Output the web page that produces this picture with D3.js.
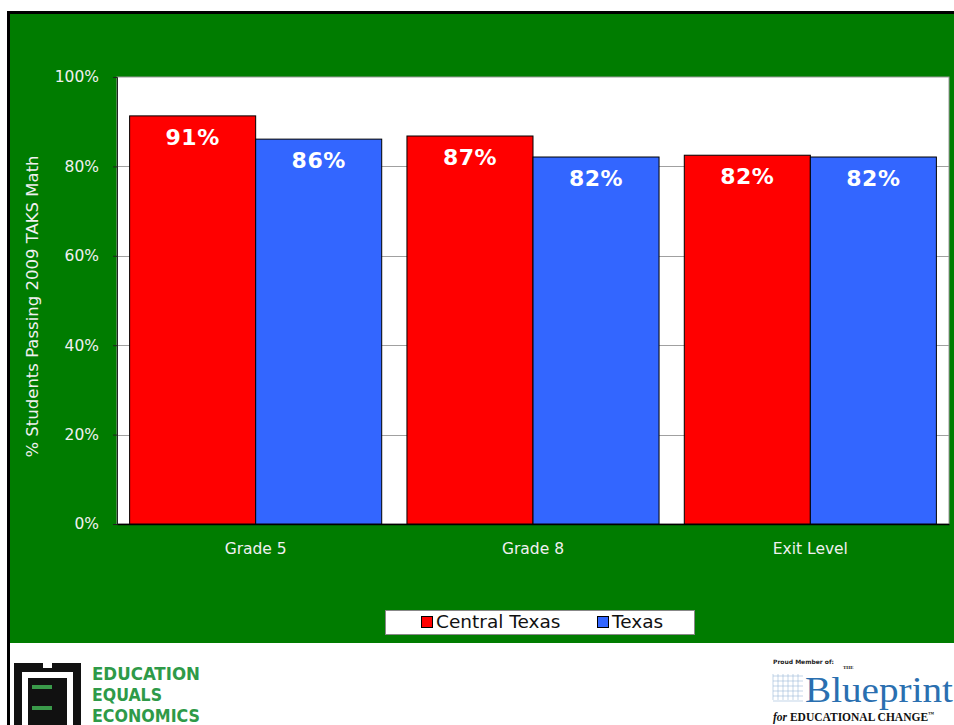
<!DOCTYPE html>
<html><head><meta charset="utf-8">
<script src="https://cdn.jsdelivr.net/npm/d3@7"></script>
<style>
html,body{margin:0;padding:0;background:#fff;}
svg{display:block;}
</style></head>
<body>
<svg id="chart" width="954" height="725"></svg>
<script>
const categories = ["Grade 5", "Grade 8", "Exit Level"];
const seriesNames = ["Central Texas", "Texas"];
const centralTexas = [91.3, 86.8, 82.5];
const texas = [86.1, 82.1, 82.1];
const centralLabels = ["91%", "87%", "82%"];
const texasLabels = ["86%", "82%", "82%"];
const yTicks = [0, 20, 40, 60, 80, 100];
const colors = ["#ff0000", "#3366ff"];

const svg = d3.select("#chart");
const font = "'DejaVu Sans', Verdana, sans-serif";

// frame
svg.append("rect").attr("x", 10).attr("y", 14).attr("width", 944).attr("height", 629).attr("fill", "#007c00");
svg.append("rect").attr("x", 7).attr("y", 11).attr("width", 947).attr("height", 3).attr("fill", "#000");
svg.append("rect").attr("x", 7).attr("y", 11).attr("width", 3).attr("height", 714).attr("fill", "#000");

const plot = {left: 117, right: 949, top: 77, bottom: 524};
const x = d3.scaleBand().domain(categories).range([plot.left, plot.right]).paddingInner(0.091).paddingOuter(0.0455);
const xs = d3.scaleBand().domain(seriesNames).range([0, x.bandwidth()]);
const y = d3.scaleLinear().domain([0, 100]).range([plot.bottom, plot.top]);

svg.append("rect").attr("x", plot.left).attr("y", plot.top).attr("width", plot.right - plot.left).attr("height", plot.bottom - plot.top)
  .attr("fill", "#fff").attr("stroke", "#999").attr("stroke-width", 1);

// gridlines
svg.append("g").selectAll("line").data(yTicks.filter(d => d > 0 && d < 100)).join("line")
  .attr("x1", plot.left).attr("x2", plot.right)
  .attr("y1", d => Math.round(y(d)) + 0.5).attr("y2", d => Math.round(y(d)) + 0.5)
  .attr("stroke", "#a0a0a0").attr("stroke-width", 1);

// y axis
const yAxis = svg.append("g").attr("transform", `translate(${plot.left},0)`)
  .call(d3.axisLeft(y).tickValues(yTicks).tickFormat(d => d + "%").tickSize(4).tickPadding(14));
yAxis.select(".domain").attr("stroke", "#222");
yAxis.selectAll(".tick line").attr("stroke", "#222");
yAxis.selectAll("text").attr("fill", "#f0f0f0").style("font-family", font).style("font-size", "15.5px");

// x axis
const xAxis = svg.append("g").attr("transform", `translate(0,${plot.bottom})`)
  .call(d3.axisBottom(x).tickSize(0).tickPadding(19));
xAxis.select(".domain").attr("stroke", "#000").attr("stroke-width", 1.5);
xAxis.selectAll("text").attr("fill", "#f0f0f0").style("font-family", font).style("font-size", "15.5px");

// y title
svg.append("text").attr("transform", `translate(38,${(plot.top + plot.bottom) / 2 + 6}) rotate(-90)`)
  .attr("text-anchor", "middle").attr("fill", "#f0f0f0")
  .style("font-family", font).style("font-size", "16.5px")
  .text("% Students Passing 2009 TAKS Math");

// bars
const seriesData = [centralTexas, texas];
const seriesLabels = [centralLabels, texasLabels];
seriesData.forEach((vals, si) => {
  const g = svg.append("g");
  g.selectAll("rect").data(vals).join("rect")
    .attr("x", (d, i) => x(categories[i]) + xs(seriesNames[si]))
    .attr("y", d => y(d))
    .attr("width", xs.bandwidth())
    .attr("height", d => y(0) - y(d))
    .attr("fill", colors[si]).attr("stroke", "#000").attr("stroke-width", 1);
  g.selectAll("text").data(vals).join("text")
    .attr("x", (d, i) => x(categories[i]) + xs(seriesNames[si]) + xs.bandwidth() / 2)
    .attr("y", d => y(d) + 29)
    .attr("text-anchor", "middle").attr("fill", "#fff")
    .style("font-family", font).style("font-size", "22px").style("font-weight", "bold")
    .style("letter-spacing", "0.5px")
    .text((d, i) => seriesLabels[si][i]);
});

// legend
const lg = svg.append("g");
lg.append("rect").attr("x", 385.5).attr("y", 610.5).attr("width", 309).attr("height", 24).attr("fill", "#fff").attr("stroke", "#888");
const legX = [421, 597];
seriesNames.forEach((n, i) => {
  lg.append("rect").attr("x", legX[i] + 0.5).attr("y", 616.5).attr("width", 11).attr("height", 11)
    .attr("fill", colors[i]).attr("stroke", "#000");
  lg.append("text").attr("x", legX[i] + 15).attr("y", 628).attr("fill", "#111")
    .style("font-family", font).style("font-size", "18.5px").text(n);
});

// Left logo: Education Equals Economics
const ll = svg.append("g");
ll.append("rect").attr("x", 14).attr("y", 663).attr("width", 67).attr("height", 62).attr("fill", "#111");
ll.append("rect").attr("x", 22).attr("y", 672).attr("width", 51).attr("height", 53).attr("fill", "#fff");
ll.append("rect").attr("x", 28).attr("y", 678).attr("width", 39).attr("height", 47).attr("fill", "#111");
ll.append("rect").attr("x", 32).attr("y", 685).attr("width", 20).attr("height", 4).attr("fill", "#3a9a4a");
ll.append("rect").attr("x", 32).attr("y", 706).attr("width", 20).attr("height", 4).attr("fill", "#3a9a4a");
ll.append("rect").attr("x", 43).attr("y", 663).attr("width", 9).attr("height", 5).attr("fill", "#fff");
["EDUCATION", "EQUALS", "ECONOMICS"].forEach((t, i) => {
  ll.append("text").attr("x", 92).attr("y", 680 + i * 21).attr("fill", "#2e9a48")
    .style("font-family", "'Liberation Sans Narrow', 'DejaVu Sans Condensed', sans-serif")
    .style("font-size", "18px").style("font-weight", "bold")
    .attr("textLength", i === 1 ? 70 : 108).attr("lengthAdjust", "spacingAndGlyphs")
    .text(t);
});

// Right logo: Blueprint
const rl = svg.append("g");
rl.append("text").attr("x", 773).attr("y", 664).attr("fill", "#222")
  .style("font-family", font).style("font-size", "6px").style("font-weight", "bold").text("Proud Member of:");
rl.append("text").attr("x", 843).attr("y", 669).attr("fill", "#222")
  .style("font-family", "'Liberation Serif', serif").style("font-size", "5px").style("font-weight", "bold").text("THE");
const grid = rl.append("g").attr("stroke", "#9ab8d8").attr("stroke-width", 0.6);
for (let i = 0; i < 6; i++) {
  grid.append("line").attr("x1", 773 + i * 5).attr("x2", 773 + i * 5).attr("y1", 674).attr("y2", 700);
  grid.append("line").attr("x1", 773).attr("x2", 803).attr("y1", 676 + i * 5).attr("y2", 676 + i * 5);
}
rl.append("text").attr("x", 805).attr("y", 702).attr("fill", "#2a6fb0")
  .style("font-family", "'Liberation Serif', serif").style("font-size", "36px")
  .attr("textLength", 148).attr("lengthAdjust", "spacingAndGlyphs").text("Blueprint");
rl.append("text").attr("x", 773).attr("y", 721).attr("fill", "#111")
  .style("font-family", "'Liberation Serif', serif").style("font-size", "11.5px").style("font-weight", "bold")
  .html("<tspan font-style='italic'>for</tspan> EDUCATIONAL CHANGE<tspan font-size='6' dy='-5'>™</tspan>");
</script>
</body></html>
